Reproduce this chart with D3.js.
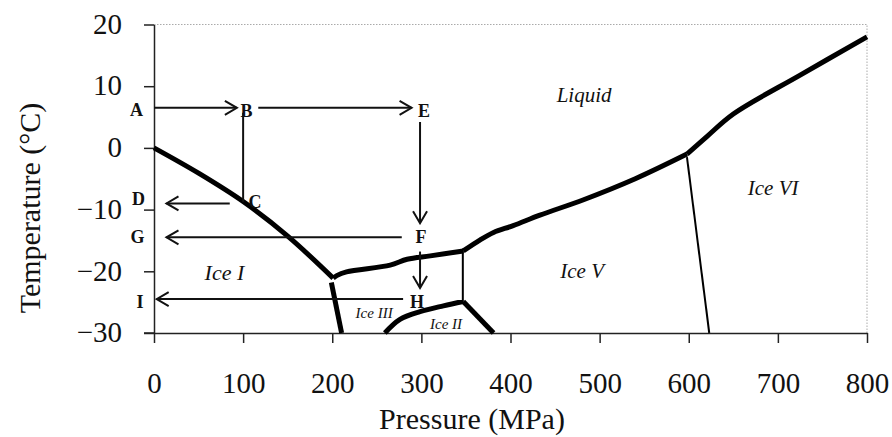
<!DOCTYPE html>
<html>
<head>
<meta charset="utf-8">
<script src="https://cdn.jsdelivr.net/npm/d3@7"></script>
<style>
  body { margin: 0; background: #fff; }
  text { font-family: "Liberation Serif", "Times New Roman", serif; fill: #111; }
  .tick text { font-size: 29px; font-family: "Liberation Serif", "Times New Roman", serif; }
  .axis-title { font-size: 30px; }
  .point-label { font-size: 18px; font-weight: bold; }
  .region-label { font-style: italic; }
  .thick { fill: none; stroke: #000; stroke-width: 5; stroke-linejoin: round; }
  .thin { fill: none; stroke: #000; stroke-width: 2; }
  .arrow { fill: none; stroke: #111; stroke-width: 2; }
</style>
</head>
<body>
<div id="wrapper"></div>
<script>
// axis ticks
const xTicks = [0, 100, 200, 300, 400, 500, 600, 700, 800]
const yTicks = [-30, -20, -10, 0, 10, 20]

// phase boundaries [pressure MPa, temperature C]
const iceILiquid = [[0, 0], [50, -4.1], [100, -8.7], [150, -14.3], [201, -21.1]]
const iceIIceIII = [[199, -21.8], [210.5, -30]]
const iceIIILiquid = [[201, -21.1], [205, -20.7], [216, -20.1], [265, -19], [284, -18.05], [310, -17.5], [347, -16.7]]
const iceIIIIceV = [[346.5, -16.7], [346.5, -24.9]]
const iceIIIceIII = [[259, -30], [276, -27.8], [298.5, -26.55], [324.7, -25.6], [347, -24.9]]
const iceIIIceV = [[347, -24.9], [381, -30]]
const iceVLiquid = [[347, -16.7], [366, -14.9], [381, -13.7], [403, -12.6], [433, -10.9], [482, -8.4], [540, -5], [598, -1]]
const iceVILiquid = [[598, -1], [620, 1.8], [650, 5.5], [725, 11.8], [800, 18]]
const iceVIceVI = [[598, -1.5], [623, -30]]

const thickLines = [iceILiquid, iceIIceIII, iceIIILiquid, iceIIIceIII, iceIIIceV, iceVLiquid, iceVILiquid]
const thinLines = [iceIIIIceV, iceVIceVI]

// process paths
const arrowPaths = [
  [[0, 6.5], [93, 6.5]],        // A -> B
  [[117, 6.5], [289, 6.5]],     // B -> E
  [[85, -9], [14, -9]],         // C -> D
  [[298.5, 4.2], [298.5, -12.2]],  // E -> F
  [[278, -14.5], [14, -14.5]],  // F -> G
  [[298.5, -16.8], [298.5, -22.7]], // F -> H
  [[279.5, -24.5], [3, -24.5]], // H -> I
]
const plainPaths = [
  [[100, 5.7], [100, -8.8]],    // B - C
]

const pointNames = ["A", "B", "E", "C", "D", "G", "F", "I", "H"]
const pointPressures = [-19.6, 103.8, 303, 113.4, -17.4, -18.5, 299.7, -15.7, 295.2]
const pointTemps = [5.2, 5.0, 5.0, -9.7, -9.25, -15.4, -15.4, -25.9, -25.9]

const regionNames = ["Liquid", "Ice VI", "Ice V", "Ice I", "Ice III", "Ice II"]
const regionPressures = [482.6, 694.7, 480.4, 79, 247, 327.7]
const regionTemps = [7.44, -7.6, -21.1, -21.4, -27.5, -29.3]
const regionSizes = [21, 21, 21, 22, 15, 15]

// dimensions
const dimensions = {
  width: 892,
  height: 437,
  margin: { top: 24.5, right: 25, bottom: 104, left: 154 },
}
dimensions.boundedWidth = dimensions.width - dimensions.margin.left - dimensions.margin.right
dimensions.boundedHeight = dimensions.height - dimensions.margin.top - dimensions.margin.bottom

const wrapper = d3.select("#wrapper")
  .append("svg")
    .attr("width", dimensions.width)
    .attr("height", dimensions.height)

wrapper.append("defs").append("marker")
    .attr("id", "head")
    .attr("markerUnits", "userSpaceOnUse")
    .attr("viewBox", "-14 -9 16 18")
    .attr("markerWidth", 16)
    .attr("markerHeight", 18)
    .attr("refX", 0)
    .attr("refY", 0)
    .attr("orient", "auto")
  .append("path")
    .attr("d", "M-12,-7 L0,0 L-12,7")
    .attr("fill", "none")
    .attr("stroke", "#111")
    .attr("stroke-width", 2)

const bounds = wrapper.append("g")
  .attr("transform", `translate(${dimensions.margin.left}, ${dimensions.margin.top})`)

// scales
const xScale = d3.scaleLinear()
  .domain([0, 800])
  .range([0, dimensions.boundedWidth])

const yScale = d3.scaleLinear()
  .domain([-30, 20])
  .range([dimensions.boundedHeight, 0])

const line = d3.line()
  .x(d => xScale(d[0]))
  .y(d => yScale(d[1]))

const curve = d3.line()
  .x(d => xScale(d[0]))
  .y(d => yScale(d[1]))
  .curve(d3.curveCatmullRom)

// frame (dotted top and right)
bounds.append("path")
  .attr("d", line([[0, 20], [800, 20], [800, -30]]))
  .attr("fill", "none")
  .attr("stroke", "#aaa")
  .attr("stroke-width", 1)
  .attr("stroke-dasharray", "1.5,1.5")

// axes
const yAxis = bounds.append("g")
  .call(d3.axisLeft(yScale).tickValues(yTicks).tickSize(10).tickPadding(22).tickSizeOuter(0))
const xAxis = bounds.append("g")
  .attr("transform", `translate(0, ${dimensions.boundedHeight})`)
  .call(d3.axisBottom(xScale).tickValues(xTicks).tickSize(10).tickPadding(29).tickSizeOuter(0))

bounds.selectAll(".domain").attr("stroke", "#222").attr("stroke-width", 1.5)
bounds.selectAll(".tick line").attr("stroke", "#222").attr("stroke-width", 1.5)
yAxis.selectAll(".tick text").attr("dy", "0.3em")

// y axis extends to the left at -30
bounds.append("line")
  .attr("x1", -10).attr("x2", 0)
  .attr("y1", yScale(-30)).attr("y2", yScale(-30))
  .attr("stroke", "#222").attr("stroke-width", 1.5)

// phase boundaries
bounds.selectAll(".thick")
  .data(thickLines)
  .enter().append("path")
    .attr("class", "thick")
    .attr("d", curve)

bounds.selectAll(".thin")
  .data(thinLines)
  .enter().append("path")
    .attr("class", "thin")
    .attr("d", line)

// process paths
bounds.selectAll(".arrow")
  .data(arrowPaths.concat(plainPaths))
  .enter().append("path")
    .attr("class", "arrow")
    .attr("d", line)
    .attr("marker-end", (d, i) => i < arrowPaths.length ? "url(#head)" : null)

// labels
bounds.selectAll(".point-label")
  .data(pointNames)
  .enter().append("text")
    .attr("class", "point-label")
    .attr("x", (d, i) => xScale(pointPressures[i]))
    .attr("y", (d, i) => yScale(pointTemps[i]))
    .attr("text-anchor", "middle")
    .text(d => d)

bounds.selectAll(".region-label")
  .data(regionNames)
  .enter().append("text")
    .attr("class", "region-label")
    .attr("x", (d, i) => xScale(regionPressures[i]))
    .attr("y", (d, i) => yScale(regionTemps[i]))
    .attr("text-anchor", "middle")
    .style("font-size", (d, i) => regionSizes[i] + "px")
    .text(d => d)

// axis titles
wrapper.append("text")
  .attr("class", "axis-title")
  .attr("text-anchor", "middle")
  .attr("transform", "translate(40, 208) rotate(-90)")
  .text("Temperature (°C)")

wrapper.append("text")
  .attr("class", "axis-title")
  .attr("text-anchor", "middle")
  .attr("x", 472)
  .attr("y", 429)
  .text("Pressure (MPa)")
</script>
</body>
</html>
